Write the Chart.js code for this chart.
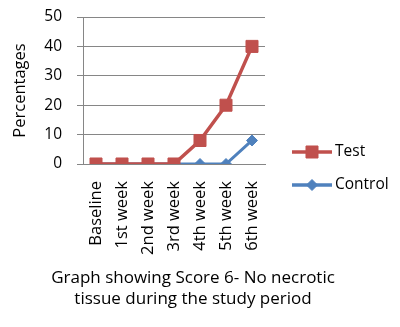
<!DOCTYPE html>
<html lang="en">
<head>
    <meta charset="UTF-8">
    <title>Score 6 - No necrotic tissue</title>
    <script src="https://cdn.jsdelivr.net/npm/chart.js"></script>
    <style>
        body {
            margin: 0;
            background: #fff;
        }
        .chart-box {
            width: 400px;
            height: 327px;
        }
    </style>
</head>
<body>
    <div class="chart-box">
        <canvas id="myChart" width="400" height="327"></canvas>
    </div>

    <script>
        const weeks = ['Baseline', '1st week', '2nd week', '3rd week', '4th week', '5th week', '6th week'];
        const testScores = [0, 0, 0, 0, 8, 20, 40];
        const controlScores = [0, 0, 0, 0, 0, 0, 8];
        const yTicks = [0, 10, 20, 30, 40, 50];
        const titleLines = ['Graph showing Score 6- No necrotic', 'tissue during the study period'];

        const FONT = "'Open Sans', sans-serif";
        const RED = '#C0504D';
        const BLUE = '#4F81BD';

        // legend + bottom caption drawn by hand (line with marker like the original)
        const sideLegend = {
            id: 'sideLegend',
            afterDraw(chart) {
                const ctx = chart.ctx;
                ctx.save();
                const items = chart.data.datasets.slice().reverse();
                items.forEach((ds, i) => {
                    const y = 152 + i * 33;
                    ctx.strokeStyle = ds.borderColor;
                    ctx.lineWidth = 3.5;
                    ctx.beginPath();
                    ctx.moveTo(292, y);
                    ctx.lineTo(332, y);
                    ctx.stroke();
                    ctx.fillStyle = ds.pointBackgroundColor;
                    ctx.strokeStyle = ds.pointBorderColor;
                    ctx.lineWidth = 1;
                    ctx.beginPath();
                    if (ds.pointStyle === 'rect') {
                        const s = Math.SQRT1_2 * ds.pointRadius;
                        ctx.rect(312 - s, y - s, 2 * s, 2 * s);
                    } else {
                        const r = ds.pointRadius;
                        ctx.moveTo(312 - r, y);
                        ctx.lineTo(312, y - r);
                        ctx.lineTo(312 + r, y);
                        ctx.lineTo(312, y + r);
                        ctx.closePath();
                    }
                    ctx.fill();
                    ctx.stroke();
                    ctx.fillStyle = '#000';
                    ctx.font = '15.5px ' + FONT;
                    ctx.textBaseline = 'middle';
                    ctx.textAlign = 'left';
                    ctx.fillText(ds.label, 335, y);
                });

                ctx.fillStyle = '#000';
                ctx.font = '17px ' + FONT;
                ctx.textAlign = 'center';
                ctx.textBaseline = 'middle';
                titleLines.forEach((t, i) => {
                    ctx.fillText(t, 193, 278 + i * 21);
                });
                ctx.restore();
            }
        };

        const ctx = document.getElementById('myChart').getContext('2d');
        const myChart = new Chart(ctx, {
            type: 'line',
            data: {
                labels: weeks,
                datasets: [{
                    label: 'Control',
                    data: controlScores,
                    borderColor: BLUE,
                    backgroundColor: BLUE,
                    pointBackgroundColor: BLUE,
                    pointBorderColor: BLUE,
                    borderWidth: 3,
                    pointStyle: 'rectRot',
                    pointRadius: 5.5,
                    pointBorderWidth: 1,
                    tension: 0,
                    order: 2
                }, {
                    label: 'Test',
                    data: testScores,
                    borderColor: RED,
                    backgroundColor: RED,
                    pointBackgroundColor: RED,
                    pointBorderColor: RED,
                    borderWidth: 3.5,
                    pointStyle: 'rect',
                    pointRadius: 8.5,
                    pointBorderWidth: 1,
                    tension: 0,
                    order: 1
                }]
            },
            options: {
                responsive: false,
                animation: false,
                events: [],
                layout: {
                    padding: { left: 0, right: 135, top: 17, bottom: 63 }
                },
                scales: {
                    x: {
                        offset: true,
                        grid: { display: false, drawTicks: false },
                        border: { display: true, color: '#868686', width: 1 },
                        ticks: {
                            color: '#000',
                            font: { family: FONT, size: 16.5 },
                            minRotation: 90,
                            maxRotation: 90,
                            autoSkip: false,
                            padding: 17
                        },
                        afterFit: (scale) => {
                            scale.height = 100;
                            scale.paddingLeft = 0;
                            scale.paddingRight = 0;
                            scale.paddingTop = 0;
                            scale.paddingBottom = 0;
                        }
                    },
                    y: {
                        min: 0,
                        max: 50,
                        afterBuildTicks: (scale) => {
                            scale.ticks = yTicks.map(v => ({ value: v }));
                        },
                        grid: { color: '#868686', lineWidth: 1, tickLength: 6 },
                        border: { display: true, color: '#868686', width: 1 },
                        ticks: {
                            color: '#000',
                            font: { family: FONT, size: 15.5 },
                            padding: 15
                        },
                        title: {
                            display: true,
                            text: 'Percentages',
                            color: '#000',
                            font: { family: FONT, size: 16.5 },
                            padding: { top: 10, bottom: 0 }
                        },
                        afterFit: (scale) => {
                            scale.width = 83;
                            scale.paddingTop = 0;
                            scale.paddingBottom = 0;
                        }
                    }
                },
                plugins: {
                    legend: { display: false },
                    tooltip: { enabled: false }
                }
            },
            plugins: [sideLegend]
        });
    </script>
</body>
</html>
